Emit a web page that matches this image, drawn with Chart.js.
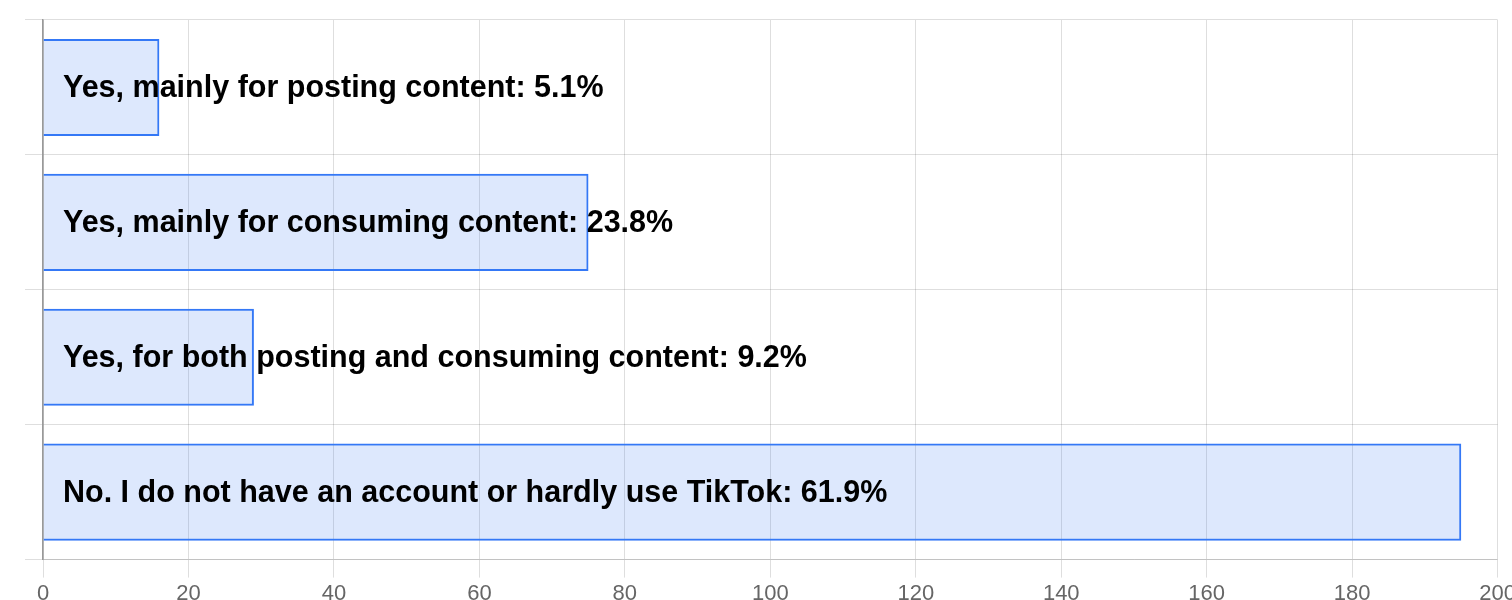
<!DOCTYPE html>
<html>
<head>
<meta charset="utf-8">
<script src="https://cdn.jsdelivr.net/npm/chart.js@4/dist/chart.umd.min.js"></script>
<style>
  html, body { margin: 0; padding: 0; background: #fff; overflow: hidden; }
  #wrap { width: 1519px; height: 610px; position: relative; }
</style>
</head>
<body>
<div id="wrap"><canvas id="tiktok-chart"></canvas></div>
<script>
const answers = [
  'Yes, mainly for posting content',
  'Yes, mainly for consuming content',
  'Yes, for both posting and consuming content',
  'No. I do not have an account or hardly use TikTok'
];
const counts = [16, 75, 29, 195];
const shares = [5.1, 23.8, 9.2, 61.9];
const xTicks = [0, 20, 40, 60, 80, 100, 120, 140, 160, 180, 200];

// writes "answer: share%" inside each bar, starting just after the base
const barLabels = {
  id: 'barLabels',
  afterDatasetsDraw(chart) {
    const { ctx, scales: { x } } = chart;
    const meta = chart.getDatasetMeta(0);
    ctx.save();
    ctx.font = 'bold 30.5px "Liberation Sans", Arial, sans-serif';
    ctx.fillStyle = '#000';
    ctx.textBaseline = 'middle';
    ctx.textAlign = 'left';
    meta.data.forEach((bar, i) => {
      ctx.fillText(answers[i] + ': ' + shares[i] + '%', x.getPixelForValue(0) + 20, bar.y + 1);
    });
    ctx.restore();
  }
};

const ctx = document.getElementById('tiktok-chart').getContext('2d');
const chart = new Chart(ctx, {
  type: 'bar',
  data: {
    labels: answers,
    datasets: [{
      data: counts,
      backgroundColor: 'rgba(52, 120, 246, 0.17)',
      borderColor: '#3478f6',
      borderWidth: 2
    }]
  },
  options: {
    indexAxis: 'y',
    responsive: true,
    maintainAspectRatio: false,
    animation: false,
    layout: { padding: { left: 25, top: 20, right: 0, bottom: 0 } },
    scales: {
      x: {
        min: 0,
        max: 200,
        afterBuildTicks(axis) { axis.ticks = xTicks.map(v => ({ value: v })); },
        grid: { color: 'rgba(0,0,0,0.13)', tickLength: 18 },
        border: { color: 'rgba(0,0,0,0.13)' },
        ticks: { color: '#666', font: { family: '"Liberation Sans", Arial, sans-serif', size: 22 }, padding: 3, maxRotation: 0 }
      },
      y: {
        grid: { color: 'rgba(0,0,0,0.13)', tickLength: 18 },
        border: { color: 'rgba(0,0,0,0.4)', width: 1.5 },
        ticks: { display: false }
      }
    },
    plugins: {
      legend: { display: false },
      tooltip: { enabled: false }
    }
  },
  plugins: [barLabels]
});
</script>
</body>
</html>
